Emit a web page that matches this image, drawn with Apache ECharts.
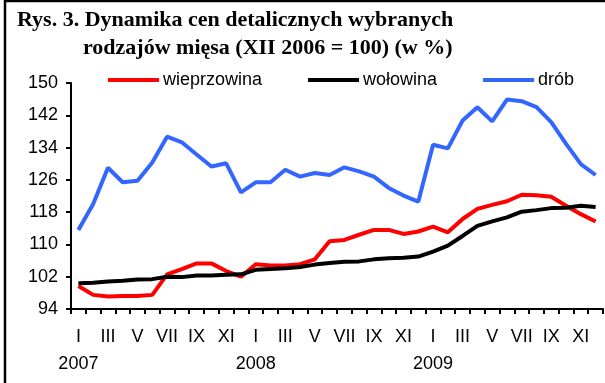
<!DOCTYPE html>
<html>
<head>
<meta charset="utf-8">
<script src="https://cdn.jsdelivr.net/npm/echarts@6/dist/echarts.min.js"></script>
<style>
  html, body { margin: 0; padding: 0; background: #fff; }
  #chart { width: 605px; height: 383px; }
</style>
</head>
<body>
<div id="chart"></div>
<script>
// Months I 2007 – XII 2009
const months = ['I','II','III','IV','V','VI','VII','VIII','IX','X','XI','XII'];
const years = ['2007', '2008', '2009'];

// Retail price indices, XII 2006 = 100
const wieprzowina = [99.7, 97.5, 97.1, 97.2, 97.2, 97.5, 102.6, 103.9, 105.3, 105.3, 103.4, 102.0,
                     105.1, 104.8, 104.8, 105.1, 106.3, 110.8, 111.1, 112.4, 113.6, 113.6, 112.6, 113.2,
                     114.4, 113.0, 116.3, 118.8, 119.8, 120.7, 122.3, 122.2, 121.8, 119.6, 117.5, 115.7];
const wolowina    = [100.4, 100.5, 100.8, 101.0, 101.3, 101.4, 102.0, 101.9, 102.3, 102.3, 102.5, 102.6,
                     103.7, 103.9, 104.1, 104.4, 105.0, 105.4, 105.7, 105.8, 106.3, 106.6, 106.7, 107.0,
                     108.2, 109.7, 112.1, 114.6, 115.7, 116.7, 118.1, 118.5, 119.0, 119.1, 119.6, 119.3];
const drob        = [113.6, 120.0, 129.0, 125.4, 125.8, 130.3, 136.7, 135.3, 132.3, 129.3, 130.1, 122.9,
                     125.4, 125.4, 128.5, 126.8, 127.7, 127.2, 129.1, 128.1, 126.8, 124.0, 122.1, 120.6,
                     134.7, 133.8, 140.7, 144.0, 140.5, 145.9, 145.5, 144.0, 140.3, 134.9, 129.9, 127.2];

// Category labels: roman month, plus the year under each January
const categories = [];
years.forEach(y => months.forEach((m, i) => categories.push(i === 0 ? m + '\n' + y : m)));

const sans = 'Arial, "Liberation Sans", sans-serif';
const serif = '"Times New Roman", "Liberation Serif", serif';

const chart = echarts.init(document.getElementById('chart'), null, { renderer: 'canvas' });
chart.setOption({
  backgroundColor: '#fff',
  animation: false,
  title: [
    { text: 'Rys. 3. Dynamika cen detalicznych wybranych', left: 12, top: 4,
      textStyle: { fontFamily: serif, fontWeight: 'bold', fontSize: 22, color: '#000' } },
    { text: 'rodzajów mięsa (XII 2006 = 100) (w %)', left: 78, top: 32,
      textStyle: { fontFamily: serif, fontWeight: 'bold', fontSize: 22, color: '#000' } }
  ],
  graphic: [{
    type: 'rect', silent: true,
    shape: { x: 5, y: 1, width: 700, height: 500 },
    style: { fill: 'none', stroke: '#000', lineWidth: 2.5 }
  }],
  legend: {
    left: 103, top: 66,
    itemWidth: 51, itemHeight: 4, itemGap: 46,
    icon: 'rect',
    textStyle: { fontFamily: sans, fontSize: 18, color: '#000', padding: [0, 0, 0, -1] },
    data: ['wieprzowina', 'wołowina', 'drób']
  },
  grid: { left: 71, right: 2, top: 83, bottom: 74, containLabel: false },
  xAxis: {
    type: 'category',
    data: categories,
    boundaryGap: true,
    axisLine: { lineStyle: { color: '#000', width: 2 } },
    axisTick: { show: true, interval: 0, length: 5, lineStyle: { color: '#000', width: 2 } },
    axisLabel: { interval: 1, margin: 15, fontFamily: sans, fontSize: 18, color: '#000', lineHeight: 27 },
    splitLine: { show: false }
  },
  yAxis: {
    type: 'value',
    min: 94, max: 150, interval: 8,
    axisLine: { show: true, lineStyle: { color: '#000', width: 2 } },
    axisTick: { show: true, length: 5, lineStyle: { color: '#000', width: 2 } },
    axisLabel: { margin: 13, fontFamily: sans, fontSize: 18, color: '#000' },
    splitLine: { show: false }
  },
  series: [
    { name: 'wieprzowina', type: 'line', data: wieprzowina, symbol: 'none',
      lineStyle: { color: '#ff0000', width: 4 }, itemStyle: { color: '#ff0000' } },
    { name: 'wołowina', type: 'line', data: wolowina, symbol: 'none',
      lineStyle: { color: '#000000', width: 4 }, itemStyle: { color: '#000000' } },
    { name: 'drób', type: 'line', data: drob, symbol: 'none',
      lineStyle: { color: '#3366ff', width: 4 }, itemStyle: { color: '#3366ff' } }
  ]
});
</script>
</body>
</html>
